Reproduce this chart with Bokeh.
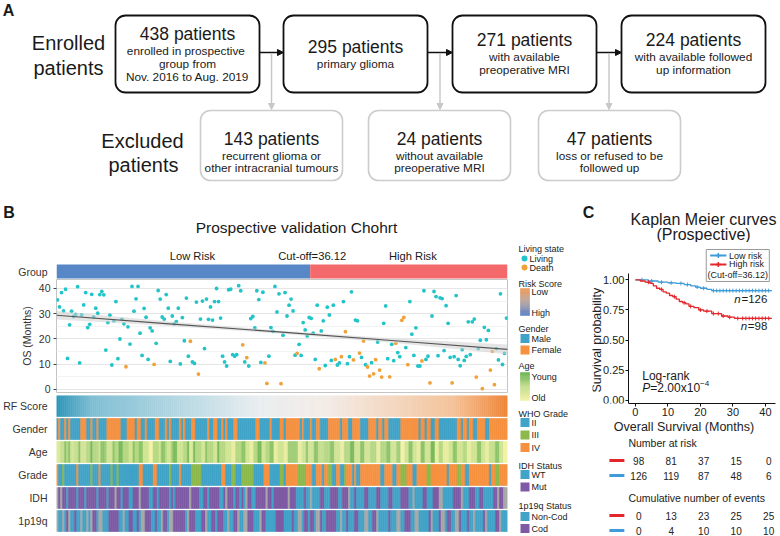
import re
import numpy as np
from bokeh.plotting import figure
from bokeh.layouts import column, row
from bokeh.models import Range1d, FixedTicker, Arrow, NormalHead, NumeralTickFormatter
from bokeh.core.properties import value
from bokeh.embed import file_html
from bokeh.resources import INLINE

FONT = "Liberation Sans"
F = value(FONT)

# ================= DATA =================
# Panel A: flow chart
enrolled_n = [438, 295, 271, 224]
enrolled_notes = [["enrolled in  prospective", "group from", "Nov. 2016 to Aug. 2019"],
                  ["primary glioma"],
                  ["with available", "preoperative MRI"],
                  ["with available followed", "up information"]]
excluded_n = [143, 24, 47]
excluded_notes = [["recurrent glioma or", "other intracranial tumours"],
                  ["without available", "preoperative MRI"],
                  ["loss or refused to be", "followed up"]]

# Panel B: prospective validation cohort (patients ordered by risk)
n_low, n_high = 126, 98
cutoff = 36.12
os_months = [
    35.5, 32.7, 38.4, 31.1, 39.7, 12.3, 25.6, 31.0, 28.9, 29.7,
    40.7, 10.5, 29.5, 33.5, 38.4, 24.5, 25.8, 37.7, 28.7, 32.2,
    30.2, 37.6, 38.8, 37.5, 15.6, 26.5, 29.4, 9.7, 27.2, 34.8,
    12.2, 20.0, 27.8, 26.0, 9.0, 24.8, 18.0, 40.8, 31.0, 35.9,
    40.8, 22.3, 13.5, 32.1, 28.6, 11.9, 24.4, 23.2, 9.9, 18.3,
    39.2, 35.8, 28.7, 27.9, 37.6, 32.2, 11.1, 29.1, 26.0, 26.9,
    32.2, 10.1, 28.5, 19.3, 36.2, 13.2, 19.1, 10.9, 10.3, 34.6,
    6.1, 27.9, 35.0, 16.2, 35.8, 27.8, 32.7, 27.5, 34.8, 40.0,
    34.8, 28.3, 13.2, 10.9, 9.3, 39.5, 39.7, 13.8, 13.2, 13.8,
    41.1, 39.1, 17.7, 10.9, 12.6, 9.3, 28.1, 28.9, 24.4, 39.1,
    35.6, 10.7, 38.5, 10.5, 2.4, 13.2, 24.5, 23.0, 40.8, 30.7,
    37.9, 2.3, 21.5,
    38.4, 29.1, 33.4, 35.8, 31.1, 13.6, 14.3, 17.9, 13.5, 26.5,
    23.6, 21.2, 28.5, 28.2, 22.3, 11.9, 33.4, 8.2, 23.2, 27.2,
    9.5, 32.6, 29.5, 11.5, 33.4, 11.9, 9.7, 10.5, 13.0, 34.8,
    22.9, 10.2, 13.0, 38.7, 11.7, 27.5, 27.2, 14.4, 12.7, 19.2,
    9.8, 8.9, 5.3, 10.6, 6.2, 11.8, 18.8, 7.7, 4.9, 26.2,
    33.1, 12.2, 5.0, 17.9, 11.4, 18.3, 14.6, 13.0, 27.4, 28.5,
    16.6, 9.8, 34.8, 21.9, 13.5, 24.4, 9.3, 9.3, 11.3, 39.1,
    11.9, 13.2, 2.6, 29.1, 38.8, 36.8, 13.4, 36.3, 36.0, 15.4,
    33.2, 26.2, 12.7, 2.6, 13.0, 37.2, 11.9, 9.4, 15.8, 11.5,
    13.1, 26.8, 13.8, 26.8, 27.9, 4.9, 16.2, 19.5, 0.3, 24.6,
    19.7, 23.4, 7.7, 15.1, 1.9, 16.2, 11.7, 37.9, 9.9, 14.3,
    28.3]
death_patients = [35, 49, 67, 71, 93, 95, 104, 105, 112, 120, 131, 139, 142, 144, 148,
                  151, 153, 155, 156, 158, 159, 161, 162, 166, 169, 172, 173, 175, 182,
                  186, 197, 209, 212, 216, 217, 218]
trend_pos = [0, 56, 112, 168, 224]
trend_mid = [29.4, 26.0, 22.7, 19.3, 15.9]
trend_half = [1.7, 0.9, 0.6, 0.9, 1.9]

gender_runs = ("M1F1M2F1M1F1M5F3M2F1M2F1M4F7M3F4M1F2M2F1M4F2M3F1M1F1M4F1M1F1M3F2M6F1M2F2M2F1M1F1M3F2M9F2M5F1M4F2"
               "M1F7M1F1M3F1M2F2M4F6M1F3M2F4M4F4M1F2M1F2M6F9M1F2M1F2M2F2M9F2M1F2M1F2M2F4M2F9")
grade_runs = ("O1B2G1B6O1B6G1B3O1B5G1B2G1B10O2B5O2B6G1B4O1B5G5B10O2B3G2B3G6B5O3B5G2"
              "B1O6G4O3B2O3B1O2G2B2O2B2G1O3B1O1B2O10B2O4B2O2G3O3B2O5G2O8B1O4G2O2B2O10B1O2G2O4")
idh_runs = ("N1M1N1M2W1M4W1M3W1M5W1M4W1M3N1M2W1M3W2M3N1M4W2M2W1M5W1M1W1M7N1M4W2M2W1M5W2M1N1M3W1M2W1M1W1N1M2W2M5N1M2W1M5"
            "M2N1M3W4M1W2N1W4M2W3M4W2M3N1W2M1W4M2W4M2W4M2W4M4W2N1W4M2W3M3N2W5M4N1W3M3W2M2W5M2N1M2N2")
codel_runs = ("X1N2X1N1C1X1N2C1N2X1N2X1N1X1C2N1X2N3C5N2X1N2C2N2C1N1X2C3N2C1N2X1C2N1X2C6N1X1C3N3C2X1N2C2N1C3N2X1N2C2X1N2X2C3N3X1C2N5C4"
              "N4C1N2X2N1C2N1C2N1X2C1N2C5N2X1N2C1N3C2N3X2N2C2X1N5C1N3X2N2C3N2X2N5C1X1N3C1X2N1C2N2X2C1N3C1N2X1N4C1X1N4C2X1N3")
# age level 0 = youngest (dark green) ... 9 = oldest (pale yellow), as (level, count) runs
age_runs = [(7, 2), (5, 2), (2, 1), (4, 1), (2, 1), (6, 2), (5, 2), (2, 1), (6, 3), (4, 2), (1, 1), (4, 3), (6, 1),
            (2, 2), (3, 1), (6, 3), (2, 1), (4, 2), (1, 2), (4, 3), (6, 2), (2, 1), (4, 2), (2, 2), (6, 3), (9, 2),
            (4, 3), (6, 1), (2, 2), (4, 1), (6, 2), (3, 1), (1, 2), (6, 3), (4, 2), (1, 1), (7, 2), (1, 1), (4, 3),
            (6, 2), (2, 1), (4, 3), (6, 2), (1, 1), (4, 3), (6, 3), (8, 2), (4, 3), (2, 2), (6, 2), (8, 2), (4, 2),
            (1, 2), (6, 2), (4, 2), (2, 2), (8, 2), (6, 3),
            (8, 2), (3, 5), (8, 2), (6, 2), (2, 1), (6, 3), (2, 2), (5, 3), (4, 3), (2, 2), (6, 3), (8, 2), (4, 3),
            (1, 2), (6, 3), (2, 2), (6, 3), (4, 3), (8, 2), (4, 3), (2, 2), (6, 3), (3, 2), (9, 2), (6, 2), (2, 2),
            (6, 2), (8, 2), (2, 2), (6, 3), (1, 2), (8, 2), (4, 2), (8, 3), (6, 2), (2, 2), (6, 3), (4, 2), (8, 2),
            (6, 3), (2, 2), (6, 2), (8, 2), (5, 3), (2, 2), (6, 2), (9, 2)]
track_names = ["RF Score", "Gender", "Age", "Grade", "IDH", "1p19q"]

# Panel C: Kaplan-Meier
low_times = [0, 4.0, 7.0, 10.0, 12.5, 15.0, 17.0, 18.5, 20.0, 22.0, 23.5]
low_surv = [1.0, 0.99, 0.98, 0.975, 0.97, 0.96, 0.95, 0.94, 0.93, 0.92, 0.91]
high_times = [0, 1.5, 3.0, 4.5, 5.5, 6.5, 7.5, 8.5, 9.5, 10.5, 11.5, 12.5, 13.5, 14.5, 15.5, 16.5,
              18.0, 19.5, 21.0, 23.5, 26.5, 28.5, 30.5]
high_surv = [1.0, 0.99, 0.98, 0.97, 0.95, 0.93, 0.92, 0.90, 0.89, 0.87, 0.86, 0.84, 0.82, 0.81, 0.80,
             0.78, 0.77, 0.75, 0.74, 0.72, 0.70, 0.69, 0.68]
low_censor = [2, 5, 8, 11, 14, 16, 19, 21, 24, 25, 26, 27, 28, 29, 30, 31, 32, 33, 34, 35, 36, 37, 38, 39, 40, 41]
high_censor = [4, 8, 12, 15, 17, 20, 22, 24, 25.5, 27, 29, 31.5, 33, 34, 35, 36, 37, 38, 39, 40, 41]
follow_end = 42
n_low_label, n_high_label = 126, 98
risk_times = [0, 10, 20, 30, 40]
at_risk_high = [98, 81, 37, 15, 0]
at_risk_low = [126, 119, 87, 48, 6]
events_high = [0, 13, 23, 25, 25]
events_low = [0, 4, 10, 10, 10]

# ================= STYLE =================
C_GRP_LOW, C_GRP_HIGH = "#5787C7", "#F4696C"
C_LIV, C_DEATH = "#22C4C8", "#F0A23A"
C_BLUE, C_ORANGE, C_GREEN, C_PURPLE, C_GRAY = "#40A3C7", "#F6913F", "#8CB84C", "#7E5AA5", "#A7A7A7"
C_KM_LOW, C_KM_HIGH = "#3F9BDA", "#E4262A"
TXT = "#1a1a1a"


def hex2rgb(h):
    return np.array([int(h[i:i + 2], 16) for i in (1, 3, 5)], dtype=float)


def ramp(stops, t):
    for (p0, c0), (p1, c1) in zip(stops[:-1], stops[1:]):
        if t <= p1 or p1 == stops[-1][0]:
            f = 0 if p1 == p0 else min(max((t - p0) / (p1 - p0), 0), 1)
            c = hex2rgb(c0) * (1 - f) + hex2rgb(c1) * f
            return "#%02x%02x%02x" % tuple(int(round(v)) for v in c)


RF_STOPS = [(0, "#2E96BA"), (0.08, "#7FBFD4"), (0.45, "#EAEEF0"), (0.6, "#F4ECE6"), (0.88, "#F4C49C"), (1, "#EF873A")]
AGE_STOPS = [(0, "#66B04F"), (0.5, "#C0DD8C"), (1, "#F3F1A8")]
RISKLEG_STOPS = [(0, "#F09A55"), (0.5, "#B9A6A2"), (1, "#5A80C5")]


def expand(runs):
    out = []
    for code, n in re.findall(r"([A-Z])(\d+)", runs):
        out += [code] * int(n)
    return out


def fit(lst, n=224):
    lst = list(lst)
    return (lst + [lst[-1]] * n)[:n]


def canvas(w, h, xr, yr, **kw):
    p = figure(width=w, height=h, x_range=Range1d(*xr), y_range=Range1d(*yr),
               x_axis_type=None, y_axis_type=None, min_border=0,
               toolbar_location=None, output_backend="svg", **kw)
    p.outline_line_color = None
    return p


def txt(p, x, y, s, size, align="center", color=TXT, style="normal", baseline="middle", angle=0):
    p.text(x=[x], y=[y], text=[s], text_font=F, text_font_size=f"{size}px", text_align=align,
           text_baseline=baseline, text_color=color, text_font_style=style, angle=angle)


def style_axis(ax, tick_size="10.5px", label_size="10.5px", color="#333333"):
    ax.major_label_text_font = FONT
    ax.major_label_text_font_size = tick_size
    ax.major_label_text_color = color
    ax.axis_label_text_font = FONT
    ax.axis_label_text_font_size = label_size
    ax.axis_label_text_font_style = "normal"
    ax.axis_label_text_color = color
    ax.minor_tick_line_color = None


# ================= TOP CANVAS (panel A + panel titles) =================
pa = canvas(780, 242, (0, 780), (242, 0))
txt(pa, 8, 10, "A", 16, style="bold")
box_left = [115, 283, 452, 621]
box_w = 144
pa.quad(left=box_left, right=[b + box_w for b in box_left], top=15, bottom=92,
        fill_color="white", line_color="#111111", line_width=1.8, border_radius=10)
for i in range(3):
    pa.add_layout(Arrow(end=NormalHead(size=6, fill_color="#111", line_color="#111"),
                        x_start=box_left[i] + box_w, y_start=52, x_end=box_left[i + 1], y_end=52,
                        line_color="#111", line_width=1.5))
    xm = (box_left[i] + box_w + box_left[i + 1]) / 2
    pa.add_layout(Arrow(end=NormalHead(size=6, fill_color="#C8C8C8", line_color="#C8C8C8"),
                        x_start=xm, y_start=53, x_end=xm, y_end=109,
                        line_color="#C8C8C8", line_width=1.5))
for i, (n, notes) in enumerate(zip(enrolled_n, enrolled_notes)):
    cx = box_left[i] + box_w / 2
    y0 = 53.5 - len(notes) * 6.8
    txt(pa, cx, y0, f"{n} patients", 17.5)
    for k, line in enumerate(notes):
        txt(pa, cx, y0 + 17 + 13 * k, line, 11.8)
txt(pa, 68, 42, "Enrolled", 20)
txt(pa, 68, 67, "patients", 20)

exc_left = [200, 368, 538]
exc_w = 142
pa.quad(left=exc_left, right=[b + exc_w for b in exc_left], top=110, bottom=180,
        fill_color="white", line_color="#CCCCCC", line_width=1.6, border_radius=10)
for i, (n, notes) in enumerate(zip(excluded_n, excluded_notes)):
    cx = exc_left[i] + exc_w / 2
    txt(pa, cx, 138, f"{n} patients", 17.5)
    for k, line in enumerate(notes):
        txt(pa, cx, 155 + 12.5 * k, line, 11.8)
txt(pa, 142, 140, "Excluded", 20)
txt(pa, 143, 164, "patients", 20)

txt(pa, 8.5, 212, "B", 16, style="bold")
txt(pa, 296, 227, "Prospective validation Chohrt", 15.5)
txt(pa, 588, 212, "C", 16, style="bold")
txt(pa, 703, 219, "Kaplan Meier curves", 16)
txt(pa, 703, 234, "(Prospective)", 16)

# ================= PANEL B =================
NPAT = n_low + n_high
BL, BR = 49, 5

# --- group bar
pt = figure(width=512, height=37, x_range=Range1d(0, NPAT), y_range=Range1d(0, 37),
            x_axis_type=None, min_border_left=BL, min_border_right=BR, min_border_top=0,
            min_border_bottom=0, toolbar_location=None, output_backend="svg")
pt.outline_line_color = None
pt.grid.visible = False
pt.yaxis.ticker = FixedTicker(ticks=[8])
pt.yaxis.major_label_overrides = {8: "Group"}
pt.yaxis.axis_line_color = None
pt.yaxis.major_tick_line_color = None
pt.yaxis.major_label_standoff = 3
style_axis(pt.yaxis[0])
pt.quad(left=[0, n_low], right=[n_low, NPAT], bottom=1, top=15,
        fill_color=[C_GRP_LOW, C_GRP_HIGH], line_color=None)
txt(pt, 67.5, 24, "Low Risk", 11.2)
txt(pt, n_low + 1, 24, f"Cut-off={cutoff}", 11.2)
txt(pt, 177, 24, "High Risk", 11.2)

# --- scatter
ps = figure(width=512, height=116, x_range=Range1d(0, NPAT), y_range=Range1d(-1.2, 43.56),
            x_axis_type=None, min_border_left=BL, min_border_right=BR, min_border_top=0,
            min_border_bottom=3, toolbar_location=None, output_backend="svg")
ps.outline_line_color = "#C4C4C4"
ps.yaxis.ticker = FixedTicker(ticks=[0, 10, 20, 30, 40], minor_ticks=[5, 15, 25, 35])
ps.ygrid.grid_line_color = "#E6E6E6"
ps.ygrid.minor_grid_line_color = "#F3F3F3"
ps.xgrid.visible = False
ps.yaxis.axis_line_color = None
ps.yaxis.major_tick_in = 0
ps.yaxis.major_tick_out = 3
ps.yaxis.major_tick_line_color = "#444444"
ps.yaxis.major_label_standoff = 2
ps.yaxis.axis_label = "OS (Months)"
ps.yaxis.axis_label_standoff = 3
style_axis(ps.yaxis[0])
pat_x = [i + 0.5 for i in range(NPAT)]
os_vals = fit(os_months)
dead = set(death_patients)
ps.scatter(x=pat_x, y=os_vals, size=3.8, line_color=None,
           fill_color=[C_DEATH if (i + 1) in dead else C_LIV for i in range(NPAT)])
ps.varea(x=trend_pos, y1=[m - h for m, h in zip(trend_mid, trend_half)],
         y2=[m + h for m, h in zip(trend_mid, trend_half)], fill_color="#CFCFCF", fill_alpha=0.55)
ps.line(x=trend_pos, y=trend_mid, line_color="#555555", line_width=1.1)

# --- annotation tracks
ph = figure(width=512, height=141, x_range=Range1d(0, NPAT), y_range=Range1d(536, 395),
            x_axis_type=None, min_border_left=BL, min_border_right=BR, min_border_top=0,
            min_border_bottom=0, toolbar_location=None, output_backend="svg")
ph.outline_line_color = None
ph.grid.visible = False
row_tops = [395 + 23 * k for k in range(6)]
row_h = 21
row_mid = [t + row_h / 2 for t in row_tops]
ph.yaxis.ticker = FixedTicker(ticks=row_mid)
ph.yaxis.major_label_overrides = {m: name for m, name in zip(row_mid, track_names)}
ph.yaxis.axis_line_color = None
ph.yaxis.major_tick_line_color = None
ph.yaxis.major_label_standoff = 3
style_axis(ph.yaxis[0])
rf_colors = [ramp(RF_STOPS, i / (NPAT - 1)) for i in range(NPAT)]
gender_col = [{"M": C_BLUE, "F": C_ORANGE}[c] for c in fit(expand(gender_runs))]
age_levels = fit([lv for lv, n in age_runs for _ in range(n)])
age_col = [ramp(AGE_STOPS, lv / 9) for lv in age_levels]
grade_col = [{"B": C_BLUE, "G": C_GREEN, "O": C_ORANGE}[c] for c in fit(expand(grade_runs))]
idh_col = [{"W": C_BLUE, "M": C_PURPLE, "N": C_GRAY}[c] for c in fit(expand(idh_runs))]
codel_col = [{"N": C_BLUE, "C": C_PURPLE, "X": C_GRAY}[c] for c in fit(expand(codel_runs))]
L, R, T, B, COL = [], [], [], [], []
for top, cols in zip(row_tops, [rf_colors, gender_col, age_col, grade_col, idh_col, codel_col]):
    for i, c in enumerate(cols):
        L.append(i); R.append(i + 1); T.append(top); B.append(top + row_h); COL.append(c)
ph.quad(left=L, right=R, top=T, bottom=B, fill_color=COL, line_color=COL, line_width=0.6)

colB = column(pt, ps, ph)

# ================= PANEL B LEGEND =================
pl = canvas(66, 294, (512, 578), (536, 242))
LS = 9
txt(pl, 518, 248, "Living state", LS, align="left")
pl.scatter(x=[524, 524], y=[258, 267], size=6, fill_color=[C_LIV, C_DEATH], line_color=None)
txt(pl, 529, 258, "Living", LS, align="left")
txt(pl, 529, 267, "Death", LS, align="left")


def grad_box(p, top, bottom, stops, n=30):
    hs = (bottom - top) / n
    cols = [ramp(stops, (k + 0.5) / n) for k in range(n)]
    p.quad(left=520, right=529, top=[top + k * hs for k in range(n)],
           bottom=[top + (k + 1) * hs for k in range(n)], fill_color=cols, line_color=cols, line_width=0.5)


txt(pl, 518, 283, "Risk Score", LS, align="left")
grad_box(pl, 288, 315, RISKLEG_STOPS)
txt(pl, 531, 291, "Low", LS, align="left")
txt(pl, 531, 312, "High", LS, align="left")


def swatches(p, title, ty, labels, colors, y0, dy=12.5):
    txt(p, 518, ty, title, LS, align="left")
    ys = [y0 + k * dy for k in range(len(labels))]
    p.quad(left=520, right=529, top=[y - 4.5 for y in ys], bottom=[y + 4.5 for y in ys],
           fill_color=colors, line_color=None)
    for y, lab in zip(ys, labels):
        txt(p, 531, y, lab, LS, align="left")


swatches(pl, "Gender", 328, ["Male", "Female"], [C_BLUE, C_ORANGE], 338, 11.5)
txt(pl, 518, 365, "Age", LS, align="left")
grad_box(pl, 372, 400, AGE_STOPS)
txt(pl, 531, 376, "Young", LS, align="left")
txt(pl, 531, 397, "Old", LS, align="left")
swatches(pl, "WHO Grade", 413, ["II", "III", "IV"], [C_BLUE, C_GREEN, C_ORANGE], 422, 12.5)
swatches(pl, "IDH Status", 465, ["WT", "Mut"], [C_BLUE, C_PURPLE], 474, 12.5)
swatches(pl, "1p19q Status", 505, ["Non-Cod", "Cod"], [C_BLUE, C_PURPLE], 516, 12)

# ================= PANEL C =================
KX = (-13.2, 43.1)      # frame also spans the y-axis title and risk-table colour keys
AX0 = -2.15             # where the survival axis sits
CL, CR = 14, 5

pk = figure(width=202, height=195, x_range=Range1d(*KX), y_range=Range1d(-0.025, 1.309),
            min_border_left=CL, min_border_right=CR, min_border_top=0, min_border_bottom=34,
            toolbar_location=None, output_backend="svg")
pk.outline_line_color = None
pk.grid.visible = False
pk.xaxis.ticker = FixedTicker(ticks=risk_times)
pk.xaxis.bounds = (AX0, KX[1])
pk.yaxis.ticker = FixedTicker(ticks=[0, 0.25, 0.5, 0.75, 1.0])
pk.yaxis.formatter = NumeralTickFormatter(format="0.00")
pk.yaxis.fixed_location = AX0
pk.yaxis.bounds = (-0.025, 1.05)
for ax in (pk.xaxis[0], pk.yaxis[0]):
    style_axis(ax, "11px", "12.5px", "#222222")
    ax.axis_line_color = "#111111"
    ax.axis_line_width = 1
    ax.major_tick_line_color = "#111111"
    ax.major_tick_in = 0
    ax.major_tick_out = 3
    ax.major_label_standoff = 1
    ax.axis_label_standoff = 1
pk.xaxis.axis_label = "Overall Survival (Months)"
pk.text(x=[-11.7], y=[0.5], text=["Survival probability"], text_font=F, text_font_size="12.5px",
        text_align="center", text_baseline="middle", text_color="#222222", angle=np.pi / 2)

# legend box (top right, above the curves)
pk.quad(left=21.8, right=41.2, top=1.251, bottom=0.986, fill_color="white", line_color="#9A9A9A", line_width=1)
for y, c, lab in [(1.201, C_KM_LOW, "Low risk"), (1.127, C_KM_HIGH, "High risk")]:
    pk.line(x=[23.0, 28.0], y=[y, y], line_color=c, line_width=2)
    pk.scatter(x=[25.5], y=[y], marker="cross", size=5, line_color=c, line_width=1.5)
    pk.text(x=[28.8], y=[y], text=[lab], text_font=F, text_font_size="9px", text_align="left",
            text_baseline="middle", text_color=TXT)
pk.text(x=[31.5], y=[1.036], text=[f"(Cut-off={cutoff})"], text_font=F, text_font_size="9px",
        text_align="center", text_baseline="middle", text_color=TXT)


def km(p, times, surv, cens, color):
    xs = list(times) + [follow_end]
    ys = list(surv) + [surv[-1]]
    p.step(x=xs, y=ys, mode="after", line_color=color, line_width=1.3)
    idx = np.searchsorted(np.array(times), np.array(cens), side="right") - 1
    p.scatter(x=cens, y=[surv[k] for k in idx], marker="cross", size=4, line_color=color, line_width=1)


km(pk, low_times, low_surv, low_censor, C_KM_LOW)
km(pk, high_times, high_surv, high_censor, C_KM_HIGH)


def ktxt(x, y, s, size, align="left", style="normal"):
    pk.text(x=[x], y=[y], text=[s], text_font=F, text_font_size=f"{size}px", text_font_style=style,
            text_align=align, text_baseline="middle", text_color="#1a1a1a")


ktxt(32.4, 0.845, "n", 11.5, "right", "italic")
ktxt(40.6, 0.845, f"={n_low_label}", 11.5, "right")
ktxt(34.4, 0.62, "n", 11.5, "right", "italic")
ktxt(40.6, 0.62, f"={n_high_label}", 11.5, "right")
ktxt(2.1, 0.199, "Log-rank", 12)
ktxt(2.1, 0.106, "P", 12, style="italic")
ktxt(4.6, 0.106, "=2.00x10", 12)
ktxt(19.9, 0.14, "\u22124", 8)

ptab = canvas(202, 99, KX, (536, 437))
txt(ptab, AX0, 442, "Number at risk", 10.5, align="left")
txt(ptab, AX0, 497, "Cumulative number of events", 10.5, align="left")
for y, c, vals in [(460, C_KM_HIGH, at_risk_high), (475, C_KM_LOW, at_risk_low),
                   (515, C_KM_HIGH, events_high), (530, C_KM_LOW, events_low)]:
    ptab.line(x=[-8.0, -3.4], y=[y, y], line_color=c, line_width=3)
    ptab.text(x=[t + 1 for t in risk_times], y=[y] * len(vals), text=[str(v) for v in vals], text_font=F,
              text_font_size="10px", text_align="center", text_baseline="middle", text_color="#222")

colC = column(pk, ptab)

root = column(pa, row(colB, pl, colC))
open("out.html", "w").write(file_html(root, INLINE))
